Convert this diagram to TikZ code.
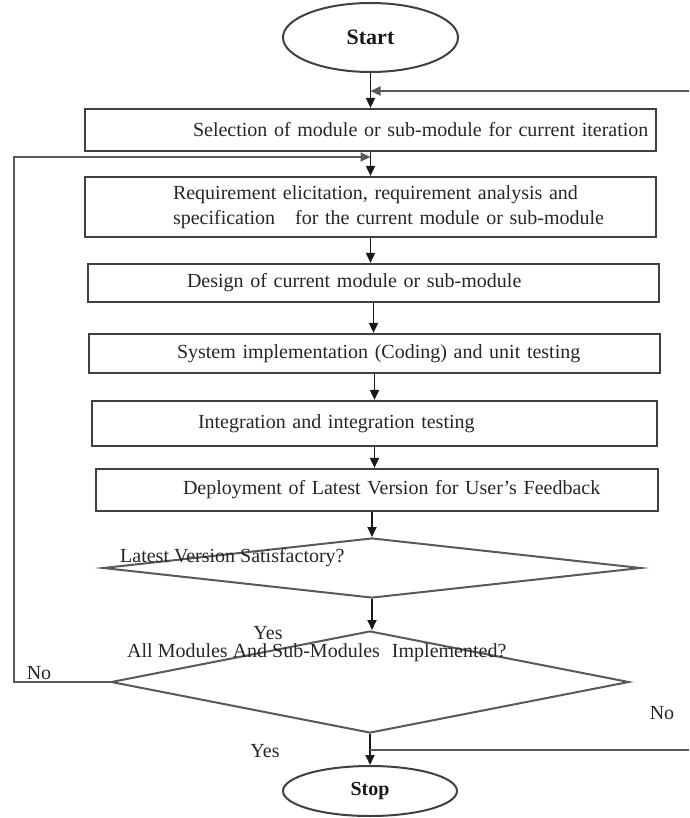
\documentclass[tikz,border=0pt]{standalone}
\usepackage{fontspec}
\setmainfont{Liberation Serif}
\usetikzlibrary{shapes.geometric,arrows.meta}
\begin{document}
\begin{tikzpicture}[x=1pt,y=-1pt,
  box/.style={draw=black!75, line width=2.2pt, rectangle, inner xsep=0pt, inner ysep=0pt,
    align=left, font=\fontsize{20}{25}\selectfont, text=black!85},
  term/.style={draw=black!75, line width=2pt, ellipse, inner sep=0pt, font=\bfseries, text=black!90},
  dia/.style={draw=black!65, line width=2pt, diamond, inner sep=0pt},
  lbl/.style={inner sep=0pt, font=\fontsize{20}{24}\selectfont, text=black!85},
  arr/.style={draw=black!90, line width=1.8pt, -{Triangle[length=10pt,width=9pt]}},
  ln/.style={draw=black!65, line width=2pt}]
\useasboundingbox (0,0) rectangle (689,818);

% terminals
\node[term, minimum width=175pt, minimum height=69pt, font=\fontsize{22}{26}\selectfont\bfseries] (start) at (370.5,37.5) {Start};
\node[term, minimum width=174pt, minimum height=50pt, font=\fontsize{20}{24}\selectfont\bfseries] (stop) at (370,791) {Stop};

% process boxes
\node[box, text width=571pt, minimum height=42pt] (b1) at (370.5,130)
  {\hspace*{108pt}Selection of module or sub-module for current iteration};
\node[box, text width=571pt, minimum height=60pt] (b2) at (370.5,207)
  {\hspace*{88pt}Requirement elicitation, requirement analysis and\\
   \hspace*{88pt}specification\hspace{20pt}for the current module or sub-module};
\node[box, text width=571pt, minimum height=38pt] (b3) at (373.5,283)
  {\hspace*{99pt}Design of current module or sub-module};
\node[box, text width=571pt, minimum height=39pt] (b4) at (374.5,353.5)
  {\hspace*{88pt}System implementation (Coding) and unit testing};
\node[box, text width=565pt, minimum height=45pt] (b5) at (374.5,423.5)
  {\hspace*{106pt}Integration and integration testing};
\node[box, text width=562pt, minimum height=42pt] (b6) at (377,490)
  {\hspace*{87pt}Deployment of Latest Version for User's Feedback};

% decisions
\node[dia, minimum width=538pt, minimum height=60pt] (d1) at (372,568) {};
\node[dia, minimum width=518pt, minimum height=102pt] (d2) at (370,682) {};

% texts
\node[lbl, anchor=west] (d1t) at (120,558) {Latest Version Satisfactory?};
\node[lbl, anchor=west] (d2t) at (127,653) {All Modules And Sub-Modules\hspace{12pt}Implemented?};
\node[lbl] (yes1) at (268,633) {Yes};
\node[lbl] (yes2) at (265,751) {Yes};
\node[lbl] (no1) at (39,673) {No};
\node[lbl] (no2) at (662,713) {No};

% main flow
\draw[arr] (start.south) -- (start.south |- b1.north);
\draw[arr] (b1.south) -- (b1.south |- b2.north);
\draw[arr] (b2.south) -- (b2.south |- b3.north);
\draw[arr] (b3.south) -- (b3.south |- b4.north);
\draw[arr] (b4.south) -- (b4.south |- b5.north);
\draw[arr] (b5.south) -- (b5.south |- b6.north);
\draw[arr] (b6.south -| d1.north) -- (d1.north);
\draw[arr] (d1.south) -- (d1.south |- d2.north);
\draw[arr] (d2.south) -- (d2.south |- stop.north);

% feedback at top (from right edge)
\coordinate (fbR) at (689,91);
\coordinate (fbJ) at (start.south |- fbR);
\draw[arr, draw=black!65] (fbR) -- (fbJ);

% No branch to the right edge
\coordinate (nrR) at (689,750);
\coordinate (nrJ) at (d2.south |- nrR);
\draw[ln] (nrJ) -- (nrR);

% left loop back
\coordinate (lpL) at (14,157);
\coordinate (lpJ) at (b1.south |- lpL);
\draw[arr, draw=black!65] (d2.west) -- (d2.west -| lpL) -- (lpL) -- (lpJ);
\end{tikzpicture}
\end{document}
